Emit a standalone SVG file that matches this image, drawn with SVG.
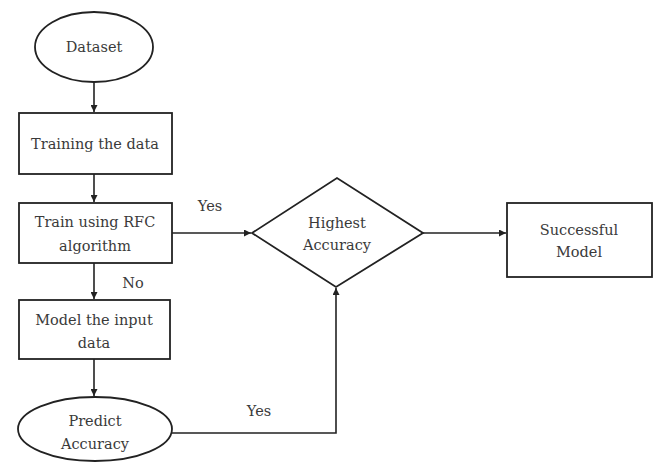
<svg xmlns="http://www.w3.org/2000/svg" width="659" height="466" viewBox="0 0 659 466">
<style>
.s{fill:#fff;stroke:#222;stroke-width:1.8}
.t{font-family:"DejaVu Serif","Liberation Serif",serif;font-size:14.5px;fill:#3a3a3a;text-anchor:middle}
.c{fill:none;stroke:#222;stroke-width:1.6}
</style>
<defs>
<marker id="a" viewBox="0 0 10 10" refX="10" refY="5" markerWidth="7" markerHeight="7" markerUnits="userSpaceOnUse" orient="auto"><path d="M0,0L10,5L0,10z" fill="#222"/></marker>
</defs>
<rect width="659" height="466" fill="#fff"/>
<g id="connectors">
<path class="c" d="M94,82V112" marker-end="url(#a)"/>
<path class="c" d="M94,174V202" marker-end="url(#a)"/>
<path class="c" d="M94,263V299" marker-end="url(#a)"/>
<path class="c" d="M94,359V396" marker-end="url(#a)"/>
<path class="c" d="M172,233H251" marker-end="url(#a)"/>
<path class="c" d="M423,233H506" marker-end="url(#a)"/>
<path class="c" d="M172,433H336V288" marker-end="url(#a)"/>
<text class="t" x="210" y="211">Yes</text>
<text class="t" x="133" y="288">No</text>
<text class="t" x="259" y="416">Yes</text>
</g>
<g id="dataset"><ellipse class="s" cx="94" cy="47" rx="59" ry="35"/><text class="t" x="94" y="52">Dataset</text></g>
<g id="training"><rect class="s" x="19" y="113" width="153" height="61"/><text class="t" x="95" y="149">Training the data</text></g>
<g id="rfc"><rect class="s" x="19" y="203" width="153" height="60"/><text class="t" x="95" y="227">Train using RFC</text><text class="t" x="95" y="251">algorithm</text></g>
<g id="model"><rect class="s" x="19" y="300" width="151" height="59"/><text class="t" x="94" y="325">Model the input</text><text class="t" x="94" y="348">data</text></g>
<g id="predict"><ellipse class="s" cx="95" cy="429" rx="77" ry="32"/><text class="t" x="95" y="426">Predict</text><text class="t" x="95" y="449">Accuracy</text></g>
<g id="highest"><path class="s" d="M252,233L337,178L423,233L336,287Z"/><text class="t" x="337" y="228">Highest</text><text class="t" x="337" y="250">Accuracy</text></g>
<g id="successful"><rect class="s" x="507" y="203" width="145" height="74"/><text class="t" x="579" y="235">Successful</text><text class="t" x="579" y="257">Model</text></g>
</svg>
